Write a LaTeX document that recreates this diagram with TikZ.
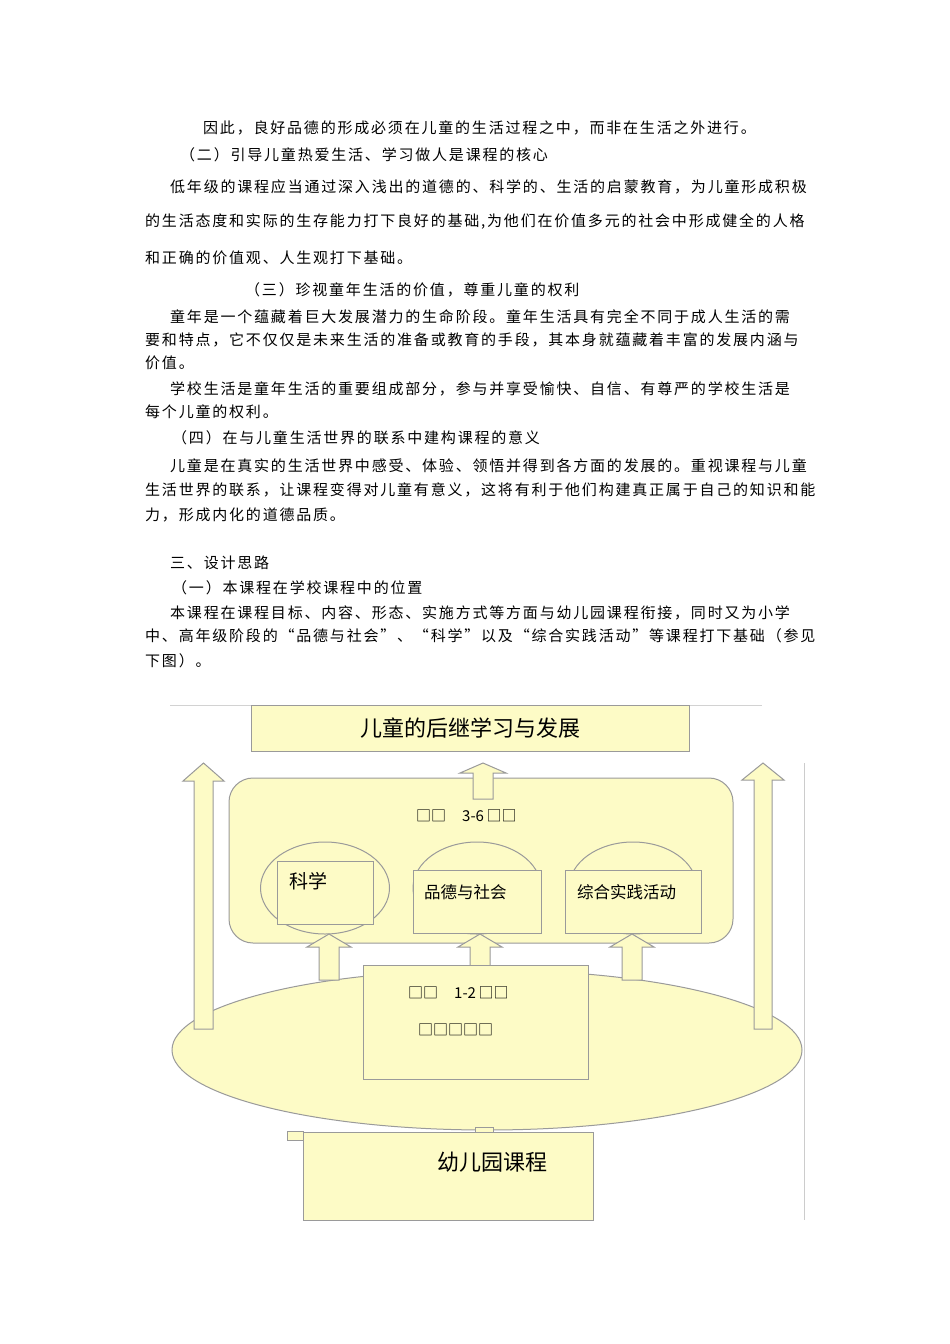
\documentclass[tikz,border=0pt]{standalone}
\usepackage{fontspec}
\newfontfamily\cjk{Noto Sans CJK SC}
\newfontfamily\cjkb[LetterSpace=12]{Noto Sans CJK SC}
\definecolor{fillY}{HTML}{FDFBC6}
\definecolor{edgeG}{HTML}{9A9A9A}
\newcommand{\uparrowshape}[6]{% cx, ytop, ybot, shaft half, head half, head length
  \filldraw[fill=fillY,draw=edgeG,line width=1pt] (#1-#4,#3) -- (#1-#4,#2+#6) -- (#1-#5,#2+#6) -- (#1,#2) -- (#1+#5,#2+#6) -- (#1+#4,#2+#6) -- (#1+#4,#3) -- cycle;}
\begin{document}
\begin{tikzpicture}[x=1pt,y=-1pt,
  para/.style={anchor=west,inner sep=0pt,font=\cjkb\fontsize{15}{17}\selectfont},
  dbox/.style={draw=edgeG,fill=fillY,line width=1pt},
  lab/.style={font=\cjk\fontsize{16.5}{18}\selectfont,anchor=west,inner sep=0pt}]
\useasboundingbox[fill=white] (0,0) rectangle (950,1344);
% body text
\node[para] (l1) at (203,128) {因此，良好品德的形成必须在儿童的生活过程之中，而非在生活之外进行。};
\node[para] (l2) at (180,155) {（二）引导儿童热爱生活、学习做人是课程的核心};
\node[para] (l3) at (170,187) {低年级的课程应当通过深入浅出的道德的、科学的、生活的启蒙教育，为儿童形成积极};
\node[para] (l4) at (145,222) {的生活态度和实际的生存能力打下良好的基础,为他们在价值多元的社会中形成健全的人格};
\node[para] (l5) at (145,258) {和正确的价值观、人生观打下基础。};
\node[para] (l6) at (245,290) {（三）珍视童年生活的价值，尊重儿童的权利};
\node[para] (l7) at (170,317) {童年是一个蕴藏着巨大发展潜力的生命阶段。童年生活具有完全不同于成人生活的需};
\node[para] (l8) at (145,340) {要和特点，它不仅仅是未来生活的准备或教育的手段，其本身就蕴藏着丰富的发展内涵与};
\node[para] (l9) at (145,363) {价值。};
\node[para] (l10) at (170,389) {学校生活是童年生活的重要组成部分，参与并享受愉快、自信、有尊严的学校生活是};
\node[para] (l11) at (145,412) {每个儿童的权利。};
\node[para] (l12) at (172,438) {（四）在与儿童生活世界的联系中建构课程的意义};
\node[para] (l13) at (170,466) {儿童是在真实的生活世界中感受、体验、领悟并得到各方面的发展的。重视课程与儿童};
\node[para] (l14) at (145,490) {生活世界的联系，让课程变得对儿童有意义，这将有利于他们构建真正属于自己的知识和能};
\node[para] (l15) at (145,515) {力，形成内化的道德品质。};
\node[para] (l16) at (170,563) {三、设计思路};
\node[para] (l17) at (172,588) {（一）本课程在学校课程中的位置};
\node[para] (l18) at (170,613) {本课程在课程目标、内容、形态、实施方式等方面与幼儿园课程衔接，同时又为小学};
\node[para] (l19) at (145,636) {中、高年级阶段的“品德与社会”、“科学”以及“综合实践活动”等课程打下基础（参见};
\node[para] (l20) at (145,661) {下图）。};
% diagram
\draw[gray!35,line width=1pt] (170,705) -- (762,705);
\draw[gray!40,line width=1pt] (804,763) -- (804,1220);
\node[dbox,minimum width=438pt,minimum height=46pt,font=\cjk\fontsize{22}{24}\selectfont] (top) at (470,728) {儿童的后继学习与发展};
\filldraw[dbox] (487,1050) ellipse (315pt and 80pt);
\filldraw[dbox] (475,1127) rectangle (493,1133);
\filldraw[dbox,rounded corners=24pt] (229,778) rectangle (733,943);
\uparrowshape{203.5}{763}{1029}{9.5}{20.5}{18}
\uparrowshape{763}{763}{1029}{9}{21}{17}
\uparrowshape{483}{763}{799}{10}{23}{10}
\node[font=\cjk\fontsize{15}{18}\selectfont,anchor=west,inner sep=0pt] (g36) at (416,816) {□□\hspace{16pt}3-6\,□□};
\filldraw[dbox] (325,888) ellipse (64.5pt and 46pt);
\filldraw[dbox] (477,888) ellipse (64pt and 46pt);
\filldraw[dbox] (633,888) ellipse (64pt and 46pt);
\filldraw[dbox] (277,861) rectangle (373,924);
\node[font=\cjk\fontsize{19}{20}\selectfont,anchor=west,inner sep=0pt] (scit) at (289,881) {科学};
\node[dbox,minimum width=128pt,minimum height=63pt,anchor=north west] (pd) at (413,870) {};
\node[lab] (pdt) at (424,892) {品德与社会};
\node[dbox,minimum width=136pt,minimum height=63pt,anchor=north west] (zh) at (565,870) {};
\node[lab] (zht) at (577,892) {综合实践活动};
\uparrowshape{329}{934}{980}{10}{22}{13}
\uparrowshape{480}{934}{966}{10}{22}{13}
\uparrowshape{632}{934}{980}{10}{22}{13}
\node[dbox,minimum width=225pt,minimum height=114pt,anchor=north west] (g12) at (363,965) {};
\node[font=\cjk\fontsize{15}{18}\selectfont,anchor=west,inner sep=0pt] (g12t) at (408,993) {□□\hspace{16pt}1-2\,□□};
\node[font=\cjk\fontsize{15}{18}\selectfont,anchor=west,inner sep=0pt] (g12s) at (418,1030) {□□□□□};
\filldraw[dbox] (287,1131) rectangle (303,1140);
\node[dbox,minimum width=290pt,minimum height=88pt,anchor=north west] (kg) at (303,1132) {};
\node[font=\cjk\fontsize{22}{24}\selectfont] (kgt) at (492,1162) {幼儿园课程};
\end{tikzpicture}
\end{document}
